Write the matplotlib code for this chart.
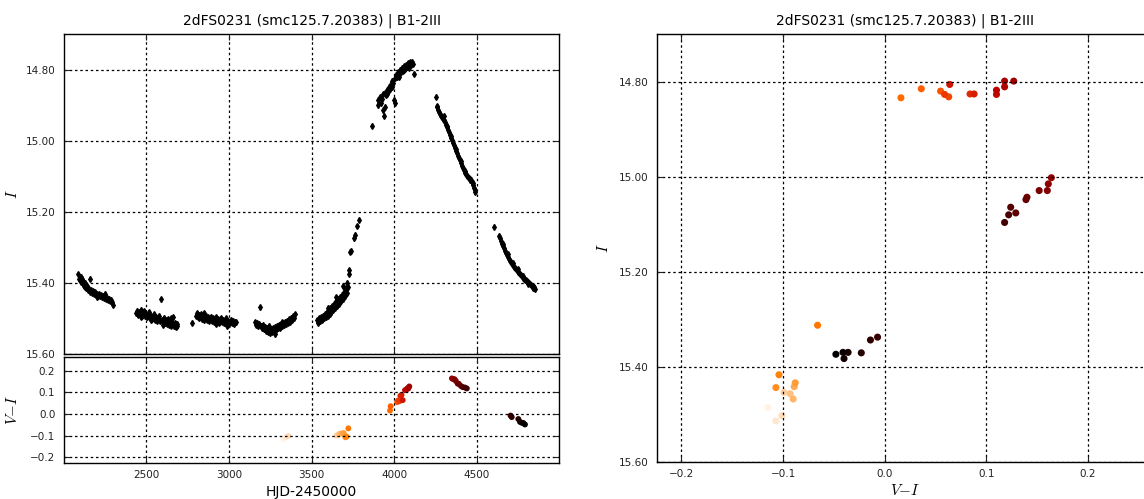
import numpy as np
import matplotlib.pyplot as plt

plt.rcParams['font.family'] = 'DejaVu Sans'
plt.rcParams['mathtext.fontset'] = 'cm'
plt.rcParams['axes.unicode_minus'] = True

title = '2dFS0231 (smc125.7.20383) | B1-2III'

# I-band light curve (HJD-2450000, I mag), one line per season
hjd = [2088,2094,2098,2102,2106,2110,2114,2118,2122,2126,2130,2134,2138,2142,2146,2150,2156,2162,2168,2174,2180,2186,2192,2198,2204,2210,2216,2222,2228,2234,2240,2246,2252,2258,2264,2270,2276,2282,2288,2294,2298,2160,2200,2250,
       2437,2443,2449,2455,2461,2467,2473,2479,2485,2491,2497,2503,2509,2515,2521,2527,2533,2539,2545,2551,2557,2563,2569,2575,2581,2587,2593,2599,2605,2611,2617,2623,2629,2635,2641,2647,2653,2659,2665,2671,2677,2683,2688,2470,2530,2600,2650,
       2775,2798,2804,2810,2816,2822,2828,2834,2840,2846,2852,2858,2864,2870,2876,2882,2888,2894,2900,2906,2912,2918,2924,2930,2936,2942,2948,2954,2960,2966,2972,2978,2984,2990,2996,3002,3008,3014,3020,3026,3032,3038,3044,2850,2920,2990,
       3158,3164,3170,3176,3182,3188,3194,3200,3206,3212,3218,3224,3230,3236,3242,3248,3254,3260,3266,3272,3278,3284,3290,3296,3302,3308,3314,3320,3326,3332,3338,3344,3350,3356,3362,3368,3374,3380,3386,3392,3398,3240,3280,3320,
       3531,3537,3543,3549,3555,3561,3567,3573,3579,3585,3591,3597,3603,3609,3615,3621,3627,3633,3639,3645,3651,3657,3663,3669,3675,3681,3687,3693,3699,3704,3708,3712,3716,3720,3724,3728,3734,3740,3758,3764,3778,3786,3600,3650,3690,
       3865,3900,3905,3912,3918,3924,3930,3934,3938,3942,3946,3950,3956,3962,3968,3974,3980,3986,3990,3995,4000,4004,4008,4014,4020,4026,4032,4038,4044,4050,4056,4062,4068,4074,4080,4086,4092,4098,4104,4110,4116,4122,3960,4030,4060,4090,
       4252,4257,4262,4268,4274,4280,4286,4292,4298,4304,4310,4316,4322,4328,4334,4340,4346,4352,4358,4364,4370,4376,4382,4388,4394,4400,4406,4412,4418,4424,4430,4436,4442,4448,4454,4460,4466,4472,4476,4480,4484,4488,4492,4300,4320,4345,4375,4405,4430,4460,
       4606,4634,4640,4646,4652,4658,4664,4670,4676,4682,4688,4694,4700,4706,4712,4718,4724,4730,4736,4742,4748,4754,4760,4766,4772,4778,4784,4790,4796,4802,4808,4814,4820,4826,4832,4838,4844,4850,4660,4690,4720,4750,4780,4810,4840]
imag = [15.375,15.388,15.392,15.383,15.398,15.390,15.402,15.395,15.408,15.400,15.412,15.405,15.415,15.410,15.420,15.414,15.418,15.425,15.420,15.428,15.424,15.431,15.426,15.434,15.430,15.436,15.432,15.438,15.435,15.441,15.437,15.443,15.439,15.446,15.442,15.448,15.444,15.450,15.447,15.455,15.462,15.389,15.440,15.430,
        15.485,15.478,15.490,15.482,15.488,15.476,15.492,15.485,15.480,15.494,15.487,15.497,15.490,15.483,15.499,15.492,15.502,15.495,15.488,15.503,15.497,15.506,15.500,15.493,15.508,15.446,15.503,15.510,15.498,15.512,15.505,15.515,15.502,15.518,15.508,15.520,15.510,15.496,15.522,15.512,15.525,15.515,15.520,15.495,15.505,15.518,15.500,
        15.512,15.493,15.486,15.497,15.490,15.500,15.493,15.488,15.502,15.496,15.505,15.498,15.492,15.503,15.497,15.507,15.500,15.495,15.506,15.500,15.510,15.503,15.497,15.508,15.502,15.512,15.505,15.499,15.510,15.504,15.514,15.507,15.500,15.512,15.506,15.516,15.509,15.503,15.512,15.507,15.516,15.509,15.511,15.485,15.515,15.520,
        15.510,15.518,15.512,15.522,15.515,15.469,15.520,15.527,15.518,15.530,15.523,15.534,15.526,15.538,15.529,15.541,15.531,15.537,15.527,15.535,15.524,15.532,15.521,15.528,15.518,15.526,15.515,15.522,15.512,15.519,15.509,15.516,15.506,15.512,15.502,15.509,15.498,15.504,15.494,15.500,15.488,15.520,15.545,15.510,
        15.505,15.512,15.500,15.508,15.496,15.504,15.492,15.500,15.488,15.496,15.483,15.492,15.478,15.487,15.472,15.482,15.466,15.476,15.460,15.470,15.452,15.465,15.446,15.458,15.440,15.450,15.434,15.446,15.425,15.438,15.415,15.428,15.400,15.412,15.365,15.375,15.312,15.310,15.275,15.265,15.240,15.222,15.470,15.440,15.410,
        14.958,14.900,14.885,14.878,14.895,14.882,14.915,14.870,14.930,14.865,14.905,14.872,14.858,14.862,14.848,14.855,14.842,14.848,14.832,14.838,14.885,14.895,14.825,14.815,14.822,14.808,14.815,14.800,14.808,14.795,14.803,14.790,14.798,14.787,14.794,14.782,14.790,14.780,14.786,14.778,14.783,14.812,14.870,14.820,14.800,14.795,
        14.876,14.903,14.905,14.915,14.920,14.925,14.930,14.933,14.938,14.942,14.948,14.955,14.962,14.970,14.977,14.985,14.992,14.999,15.006,15.013,15.020,15.028,15.035,15.042,15.048,15.055,15.062,15.070,15.077,15.083,15.090,15.095,15.099,15.102,15.104,15.107,15.110,15.115,15.125,15.118,15.132,15.138,15.143,14.930,14.958,14.988,15.024,15.058,15.085,15.112,
        15.242,15.268,15.275,15.282,15.290,15.297,15.302,15.310,15.315,15.322,15.328,15.333,15.338,15.342,15.346,15.350,15.355,15.358,15.362,15.365,15.368,15.372,15.375,15.378,15.382,15.385,15.388,15.391,15.393,15.396,15.398,15.401,15.403,15.405,15.408,15.410,15.412,15.418,15.290,15.320,15.345,15.362,15.380,15.402,15.415]

# epochs with V photometry: time, V-I colour, I mag
hjd_v = [3318,3330,3345,3360,
         3652,3665,3675,3685,3695,3705,3712,3723,
         3975,3979,4018,4025,4032,4038,4045,4052,4066,4072,4080,4086,4092,
         4350,4358,4366,4374,4385,4392,4405,4415,4428,4440,
         4705,4712,4752,4762,4772,4782,4792]
vi = [-0.124,-0.115,-0.107,-0.101,
      -0.099,-0.093,-0.090,-0.089,-0.088,-0.107,-0.104,-0.066,
      0.016,0.036,0.055,0.063,0.059,0.084,0.088,0.064,0.110,0.110,0.118,0.118,0.127,
      0.164,0.161,0.160,0.152,0.140,0.139,0.129,0.124,0.122,0.118,
      -0.007,-0.014,-0.023,-0.036,-0.040,-0.041,-0.048]
imag_v = [15.511,15.485,15.513,15.502,
          15.453,15.456,15.467,15.441,15.433,15.443,15.416,15.312,
          14.834,14.815,14.820,14.832,14.827,14.826,14.826,14.806,14.827,14.818,14.811,14.799,14.799,
          15.002,15.015,15.029,15.029,15.043,15.048,15.076,15.064,15.080,15.096,
          15.337,15.343,15.370,15.369,15.382,15.369,15.373]

W, H = 1144.0, 499.0
fig = plt.figure(figsize=(W / 100, H / 100), dpi=100)
ax1 = fig.add_axes([63.7 / W, 1 - 354 / H, 495.6 / W, 320 / H])
ax2 = fig.add_axes([63.7 / W, 1 - 462.7 / H, 495.6 / W, 106 / H])
ax3 = fig.add_axes([657 / W, 1 - 462.3 / H, 496 / W, 428.3 / H])

ax1.errorbar(hjd, imag, yerr=0.007, fmt='d', color='k', ms=3,
             elinewidth=1.0, capsize=0)

order = np.arange(len(hjd_v))
ax2.scatter(hjd_v, vi, c=order, cmap='gist_heat_r', s=18, lw=0)
ax3.scatter(vi, imag_v, c=order, cmap='gist_heat_r', s=26, lw=0)

vlim = (min(vi) - 0.1, max(vi) + 0.1)

ax1.set_xlim(2000, 5000)
ax1.set_ylim(15.6, 14.7)
ax2.set_xlim(2000, 5000)
ax2.set_ylim(vlim)
ax3.set_xlim(vlim)
ax3.set_ylim(15.6, 14.7)

ax1.set_xticks([2500, 3000, 3500, 4000, 4500])
ax2.set_xticks([2500, 3000, 3500, 4000, 4500])
ax1.set_xticklabels([])
ax1.set_yticks([14.8, 15.0, 15.2, 15.4, 15.6])
ax1.set_yticklabels(['14.80', '15.00', '15.20', '15.40', '15.60'])
ax3.set_yticks([14.8, 15.0, 15.2, 15.4, 15.6])
ax3.set_yticklabels(['14.80', '15.00', '15.20', '15.40', '15.60'])
ax2.set_yticks([-0.2, -0.1, 0.0, 0.1, 0.2])
ax2.set_yticklabels(['\u22120.2', '\u22120.1', '0.0', '0.1', '0.2'])
ax3.set_xticks([-0.2, -0.1, 0.0, 0.1, 0.2])
ax3.set_xticklabels(['\u22120.2', '\u22120.1', '0.0', '0.1', '0.2'])

for ax in (ax1, ax2, ax3):
    ax.grid(True, color='k', linestyle=(0, (2, 2.2)), lw=0.9)
    ax.tick_params(direction='in', top=True, right=True, length=4, width=0.8,
                   labelsize=7.5, colors='#222222')
    ax.tick_params(axis='y', pad=6)
    ax.tick_params(axis='x', pad=5)
    for s in ax.spines.values():
        s.set_linewidth(1.0)

ax1.set_title(title, fontsize=10, pad=7)
ax3.set_title(title, fontsize=10, pad=7)

ax1.set_ylabel('$I$', fontsize=11)
ax1.yaxis.set_label_coords(-0.088, 0.5)
ax2.set_ylabel('$V{-}I$', fontsize=11)
ax2.yaxis.set_label_coords(-0.088, 0.5)
ax2.set_xlabel('HJD-2450000', fontsize=10, labelpad=4)
ax3.set_ylabel('$I$', fontsize=11)
ax3.yaxis.set_label_coords(-0.092, 0.5)
ax3.set_xlabel('$V{-}I$', fontsize=11, labelpad=3)

fig.savefig('out.png', dpi=100)
